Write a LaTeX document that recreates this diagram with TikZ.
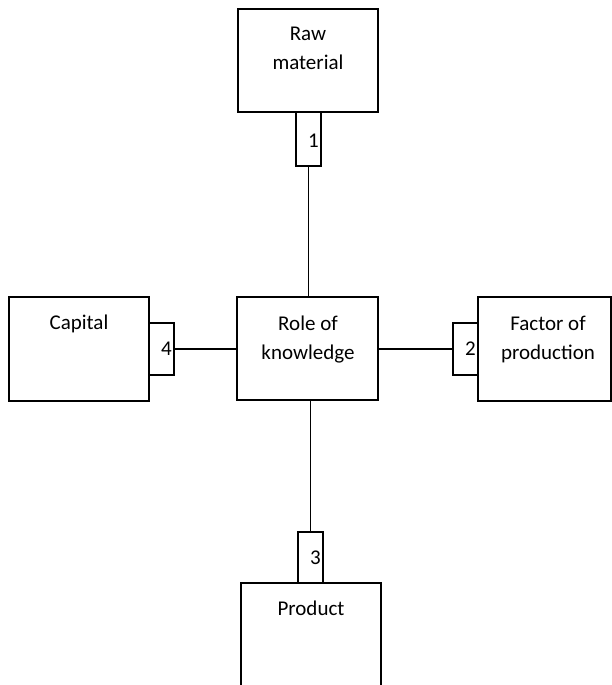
\documentclass[tikz,border=0pt]{standalone}
\usepackage{fontspec}
\setmainfont{Carlito}
\begin{document}
\begin{tikzpicture}[x=1pt,y=-1pt,
  box/.style={draw=black, line width=1.7pt, fill=white, inner sep=0pt, outer sep=0pt},
  tab/.style={draw=black, line width=1.7pt, fill=white, inner sep=0pt, outer sep=0pt,
              minimum width=25pt},
  label text/.style={font=\fontsize{21}{29}\selectfont, align=center, inner sep=0pt, anchor=base},
  num/.style={font=\fontsize{21}{25}\selectfont, inner sep=0pt, anchor=base east},
  link/.style={draw=black, line width=1.7pt}]
\useasboundingbox (0,0) rectangle (612,685);

% main boxes
\node[box, minimum width=140pt, minimum height=103pt] (raw)     at (308,60.5) {};
\node[box, minimum width=141pt, minimum height=103pt] (role)    at (307.5,348.5) {};
\node[box, minimum width=140pt, minimum height=104pt] (capital) at (79,349) {};
\node[box, minimum width=133pt, minimum height=104pt] (factor)  at (544.5,349) {};

% product box runs past the lower edge
\coordinate (prodNW) at (241,583);
\coordinate (prodNE) at (381,583);
\coordinate (prodSW) at (241,690);
\coordinate (prodSE) at (381,690);
\draw[line width=1.7pt] (prodSW) -- (prodNW) -- (prodNE) -- (prodSE);

% small numbered tabs
\node[tab, minimum height=54pt] (t1) at (308.5,139) {};
\node[tab, minimum height=52pt] (t4) at (161.5,349) {};
\node[tab, minimum height=52pt] (t2) at (465.5,349) {};
\node[tab, minimum height=51pt] (t3) at (310.5,557.5) {};

% connectors
\draw[link] (t1.south) -- (t1.south |- role.north);
\draw[link] (t4.east) -- (role.west |- t4.east);
\draw[link] (role.east |- t2.west) -- (t2.west);
\draw[link] (t3.north |- role.south) -- (t3.north);

% box texts (base anchor sits on the last line)
\node[label text] (rawtxt)  at (308,70)  {Raw\\material};
\node[label text] (roletxt) at (308,359) {Role of\\knowledge};
\node[label text] (captxt)  at (79,329)  {Capital};
\node[label text] (factxt)  at (548,359) {Factor of\\production};
\node[label text] (prodtxt) at (311,615) {Product};

% tab numbers
\node[num] (n1) at (319,147) {1};
\node[num] (n4) at (172,355) {4};
\node[num] (n2) at (476,355) {2};
\node[num] (n3) at (321,564) {3};
\end{tikzpicture}
\end{document}
